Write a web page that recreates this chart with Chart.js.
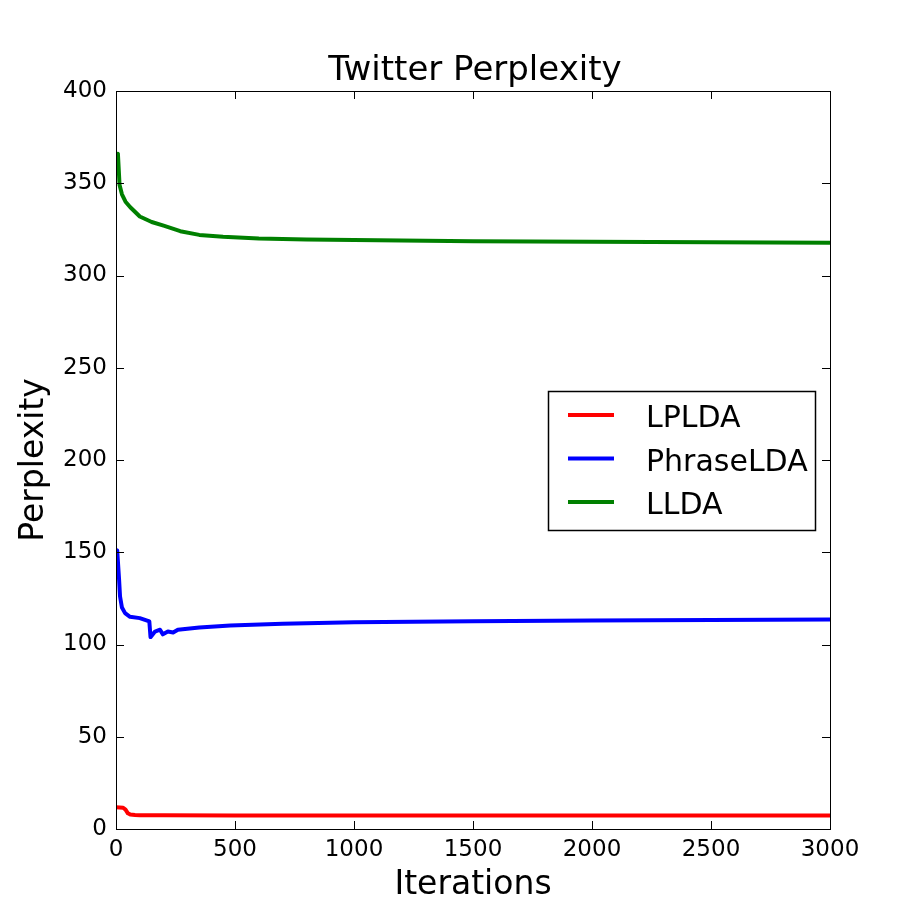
<!DOCTYPE html>
<html>
<head>
<meta charset="utf-8">
<script src="https://cdn.jsdelivr.net/npm/chart.js@4/dist/chart.umd.min.js"></script>
<style>
  body { margin: 0; background: #fff; }
  canvas { display: block; }
</style>
</head>
<body>
<canvas id="grafico" width="923" height="923"></canvas>
<script>
// valores (iteracao, perplexidade)
const lpldaIter = [0, 30, 40, 50, 60, 80, 100, 200, 500, 1000, 2000, 3000];
const lpldaVal = [11.8, 11.5, 10.5, 8.5, 7.8, 7.6, 7.5, 7.4, 7.3, 7.3, 7.3, 7.3];

const phraseIter = [0, 5, 13, 17, 25, 38, 59, 100, 134, 140, 145, 164, 185, 197, 218, 240, 260, 290, 350, 480, 700, 1000, 1500, 2000, 2500, 3000];
const phraseVal = [150, 151, 135, 126, 120, 117, 115, 114.3, 112.8, 112.5, 104, 107, 108, 105.5, 107, 106.5, 108, 108.4, 109.2, 110.3, 111.2, 112, 112.6, 113, 113.3, 113.5];

const lldaIter = [0, 8, 15, 25, 40, 60, 100, 150, 200, 270, 350, 450, 600, 800, 1000, 1500, 2000, 2500, 3000];
const lldaVal = [364, 366, 349, 344, 340, 337, 332, 329, 327, 324, 322, 321, 320, 319.5, 319.2, 318.6, 318.3, 318, 317.8];

const seriesLabels = ['LPLDA', 'PhraseLDA', 'LLDA'];
const seriesColors = ['#ff0000', '#0000ff', '#008000'];
const xTicks = [0, 500, 1000, 1500, 2000, 2500, 3000];
const yTicks = [0, 50, 100, 150, 200, 250, 300, 350, 400];

const fonte = 'DejaVu Sans';

function pares(xs, ys) {
    return xs.map((x, i) => ({ x: x, y: ys[i] }));
}

// moldura, marcas internas, titulo e legenda no estilo matplotlib
const estiloMatplotlib = {
    id: 'estiloMatplotlib',
    afterDraw(chart) {
        const ctx = chart.ctx;
        const area = chart.chartArea;
        const sx = chart.scales.x;
        const sy = chart.scales.y;
        ctx.save();
        ctx.strokeStyle = '#000';
        ctx.lineWidth = 1;
        ctx.beginPath();
        xTicks.forEach(v => {
            const px = Math.round(sx.getPixelForValue(v)) + 0.5;
            ctx.moveTo(px, area.bottom);
            ctx.lineTo(px, area.bottom - 8);
            ctx.moveTo(px, area.top);
            ctx.lineTo(px, area.top + 8);
        });
        yTicks.forEach(v => {
            const py = Math.round(sy.getPixelForValue(v)) + 0.5;
            ctx.moveTo(area.left, py);
            ctx.lineTo(area.left + 8, py);
            ctx.moveTo(area.right, py);
            ctx.lineTo(area.right - 8, py);
        });
        ctx.stroke();
        ctx.strokeRect(Math.round(area.left) + 0.5, Math.round(area.top) + 0.5,
            Math.round(area.right - area.left), Math.round(area.bottom - area.top));

        // titulo
        ctx.fillStyle = '#000';
        ctx.font = '34px "' + fonte + '"';
        ctx.textAlign = 'center';
        ctx.textBaseline = 'alphabetic';
        ctx.fillText('Twitter Perplexity', (area.left + area.right) / 2 + 2, 80);

        // legenda
        const lx = 548, ly = 391, lw = 267, lh = 139;
        ctx.fillStyle = '#fff';
        ctx.fillRect(lx, ly, lw, lh);
        ctx.strokeStyle = '#000';
        ctx.lineWidth = 1.5;
        ctx.strokeRect(lx + 0.5, ly + 0.5, lw, lh);
        ctx.font = '30px "' + fonte + '"';
        ctx.textAlign = 'left';
        chart.data.datasets.forEach((ds, i) => {
            const yy = 415 + i * 43.5;
            ctx.strokeStyle = ds.borderColor;
            ctx.lineWidth = 4;
            ctx.beginPath();
            ctx.moveTo(568, yy);
            ctx.lineTo(614, yy);
            ctx.stroke();
            ctx.fillStyle = '#000';
            ctx.fillText(ds.label, 646, yy + 12);
        });
        ctx.restore();
    }
};

new Chart(document.getElementById('grafico'), {
    type: 'line',
    data: {
        datasets: [
            { label: seriesLabels[0], data: pares(lpldaIter, lpldaVal), borderColor: seriesColors[0] },
            { label: seriesLabels[1], data: pares(phraseIter, phraseVal), borderColor: seriesColors[1] },
            { label: seriesLabels[2], data: pares(lldaIter, lldaVal), borderColor: seriesColors[2] }
        ]
    },
    options: {
        responsive: false,
        animation: false,
        elements: {
            line: { borderWidth: 4, tension: 0, fill: false, borderCapStyle: 'butt', borderJoinStyle: 'round' },
            point: { radius: 0 }
        },
        layout: { padding: { left: 0, top: 91, right: 93, bottom: 0 } },
        plugins: {
            legend: { display: false },
            title: { display: false },
            tooltip: { enabled: false }
        },
        scales: {
            x: {
                type: 'linear',
                min: 0,
                max: 3000,
                afterFit: s => { s.height = 94; },
                afterBuildTicks: s => { s.ticks = xTicks.map(v => ({ value: v })); },
                grid: { display: false, drawTicks: false },
                border: { display: false },
                ticks: { color: '#000', font: { family: fonte, size: 23 }, padding: 7, maxRotation: 0, callback: v => String(v) },
                title: { display: true, text: 'Iterations', color: '#000', font: { family: fonte, size: 33 }, padding: { top: 18, bottom: 18 } }
            },
            y: {
                type: 'linear',
                min: 0,
                max: 400,
                afterFit: s => { s.width = 116; },
                afterBuildTicks: s => { s.ticks = yTicks.map(v => ({ value: v })); },
                grid: { display: false, drawTicks: false },
                border: { display: false },
                ticks: { color: '#000', font: { family: fonte, size: 23 }, padding: 9, callback: v => String(v) },
                title: { display: true, text: 'Perplexity', color: '#000', font: { family: fonte, size: 33 }, padding: { top: 15, bottom: 15 } }
            }
        }
    },
    plugins: [estiloMatplotlib]
});
</script>
</body>
</html>
